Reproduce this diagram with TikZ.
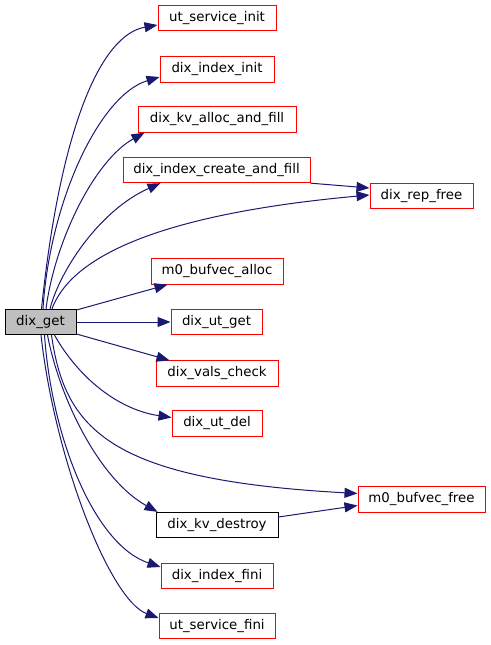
\documentclass[tikz,border=0pt]{standalone}
\usepackage{fontspec}
\setmainfont{DejaVu Sans}
\usetikzlibrary{arrows.meta,calc}
\definecolor{edgeblue}{HTML}{191970}
\definecolor{boxgray}{HTML}{BFBFBF}
\begin{document}
\begin{tikzpicture}[x=0.75pt,y=-0.75pt,
  fn/.style={draw=red, line width=0.75pt, fill=white, inner sep=0pt,
    minimum height=19pt, font=\fontsize{10}{12}\selectfont},
  plainfn/.style={fn, draw=black},
  rootfn/.style={fn, draw=black, fill=boxgray},
  call/.style={draw=edgeblue, line width=0.75pt,
    -{Triangle[length=9.75pt,width=7.5pt]}},
  link/.style={draw=edgeblue, line width=0.75pt}]
\useasboundingbox (0,0) rectangle (491,645);

\node[rootfn, minimum width=53.25pt] (get) at (40.5,322) {dix\_get};
\node[fn, minimum width=88.5pt] (usi) at (217,18) {ut\_service\_init};
\node[fn, minimum width=85.5pt] (dii) at (217,69.5) {dix\_index\_init};
\node[fn, minimum width=118.5pt] (kva) at (217,119.5) {dix\_kv\_alloc\_and\_fill};
\node[fn, minimum width=140.25pt] (ica) at (216.5,170) {dix\_index\_create\_and\_fill};
\node[fn, minimum width=77.25pt] (rep) at (421.5,196) {dix\_rep\_free};
\node[fn, minimum width=99pt] (m0a) at (217,271.5) {m0\_bufvec\_alloc};
\node[fn, minimum width=68.25pt] (dut) at (216.5,322) {dix\_ut\_get};
\node[fn, minimum width=91.5pt] (vch) at (217,373.5) {dix\_vals\_check};
\node[fn, minimum width=67.5pt] (ude) at (217,423.5) {dix\_ut\_del};
\node[fn, minimum width=95.25pt] (m0f) at (421.5,499.5) {m0\_bufvec\_free};
\node[plainfn, minimum width=91.5pt] (kvd) at (217,525) {dix\_kv\_destroy};
\node[fn, minimum width=84pt] (dif) at (217,576) {dix\_index\_fini};
\node[fn, minimum width=87pt] (usf) at (217,626) {ut\_service\_fini};

% calls from dix_get, upper side
\draw[call] ($(get.north)+(1,0)$) .. controls (60,130) and (100,35) .. ($(usi.west)+(0,7)$);
\draw[call] ($(get.north)+(2.5,0)$) .. controls (50,200) and (100,95) .. ($(dii.west)+(0,7.5)$);
\draw[call] ($(get.north)+(5.5,0)$) .. controls (55,240) and (95,160) .. ($(kva.south west)+(7,0)$);
\draw[call] ($(get.north)+(9.5,0)$) .. controls (60,270) and (100,210) .. ($(ica.south west)+(38,0)$);
\draw[call] ($(get.north)+(11.5,0)$) .. controls (70,260) and (150,215) .. ($(rep.west)+(0,-1)$);
\draw[call] (ica.south east) -- ($(rep.west)+(0,-8)$);

% calls from dix_get, right side
\draw[call] ($(get.east)+(0,-12)$) -- ($(m0a.south west)+(17,0)$);
\draw[call] (get.east) -- (dut.west);
\draw[call] ($(get.east)+(0,12)$) -- ($(vch.north west)+(14,0)$);

% calls from dix_get, lower side
\draw[call] ($(get.south)+(14,0)$) .. controls (80,380) and (120,410) .. ($(ude.west)+(0,-6)$);
\draw[call] ($(get.south)+(11,0)$) .. controls (65,430) and (110,480) .. ($(m0f.west)+(0,-6)$);
\draw[call] ($(get.south)+(7,0)$) .. controls (60,400) and (100,480) .. ($(kvd.north west)+(2,0)$);
\draw[call] ($(kvd.east)+(0,-8)$) -- ($(m0f.west)+(0,6)$);
\draw[call] ($(get.south)+(4,0)$) .. controls (52,440) and (95,545) .. ($(dif.west)+(0,-9)$);
\draw[call] ($(get.south)+(0.5,0)$) .. controls (55,460) and (110,600) .. ($(usf.west)+(0,-8)$);
\end{tikzpicture}
\end{document}
